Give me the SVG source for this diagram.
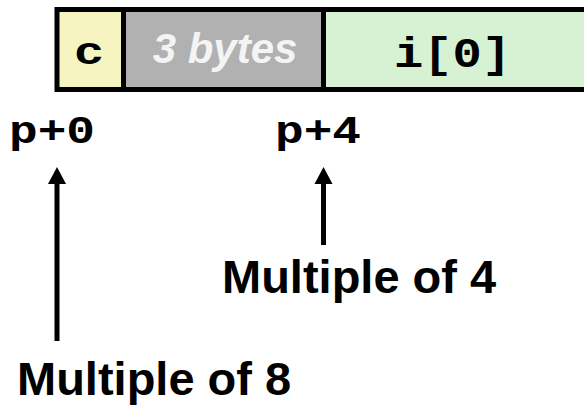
<svg xmlns="http://www.w3.org/2000/svg" width="584" height="405" viewBox="0 0 584 405">
  <defs>
    <style>
      .cell { stroke: #000; stroke-width: 5; }
      .mono { font-family: "Liberation Mono", "Courier New", monospace; font-weight: bold; fill: #000; }
      .sans { font-family: "Liberation Sans", Arial, Helvetica, sans-serif; font-weight: bold; fill: #000; }
      .shaft { stroke: #000; stroke-width: 5; fill: none; }
      .head { fill: #000; }
    </style>
  </defs>
  <rect width="584" height="405" fill="#ffffff"/>
  <g id="cell-c">
    <rect class="cell" x="57" y="9.5" width="66.5" height="80" fill="#f6f4c1"/>
    <text class="mono" x="74" y="64" font-size="38" textLength="30" lengthAdjust="spacingAndGlyphs">c</text>
  </g>
  <g id="cell-pad">
    <rect class="cell" x="123.5" y="9.5" width="200" height="80" fill="#b1b1b1"/>
    <text class="sans" x="225" y="63" font-size="42" font-style="italic" text-anchor="middle" style="fill:#f4f4f4">3 bytes</text>
  </g>
  <g id="cell-i0">
    <rect class="cell" x="323.5" y="9.5" width="280" height="80" fill="#d7f1d3"/>
    <text class="mono" x="394" y="67" font-size="42" textLength="117" lengthAdjust="spacingAndGlyphs">i[0]</text>
  </g>
  <g id="label-p0">
    <text class="mono" x="9" y="143" font-size="38" textLength="86" lengthAdjust="spacingAndGlyphs">p+0</text>
  </g>
  <g id="label-p4">
    <text class="mono" x="275" y="143" font-size="38" textLength="86" lengthAdjust="spacingAndGlyphs">p+4</text>
  </g>
  <g id="label-m4">
    <text class="sans" x="222" y="293" font-size="47">Multiple of 4</text>
  </g>
  <g id="label-m8">
    <text class="sans" x="17" y="395" font-size="47">Multiple of 8</text>
  </g>
  <g id="connectors">
    <line class="shaft" x1="57" y1="341" x2="57" y2="182"/>
    <polygon class="head" points="48,184 66,184 57,167"/>
    <line class="shaft" x1="323.5" y1="245" x2="323.5" y2="182"/>
    <polygon class="head" points="314.5,184 332.5,184 323.5,167"/>
  </g>
</svg>
